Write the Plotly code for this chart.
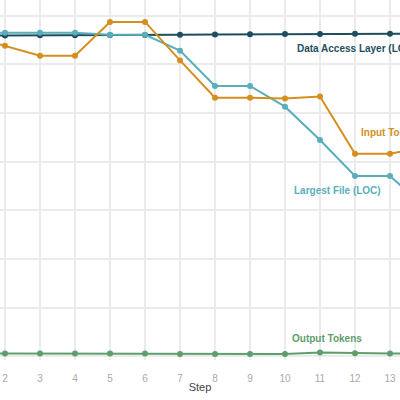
import plotly.graph_objects as go

steps = list(range(1, 15))
data_access_layer = [131.8, 131.8, 131.9, 131.9, 132.0, 132.0, 132.1, 132.2, 132.3, 132.4, 132.4, 132.5, 132.5, 132.6]
largest_file = [132.9, 132.9, 132.9, 132.9, 132.1, 132.1, 125.6, 111.1, 111.1, 102.6, 88.9, 74.1, 74.1, 61.4]
input_tokens = [131.6, 127.6, 123.5, 123.5, 137.4, 137.4, 121.6, 106.3, 106.3, 105.9, 106.8, 83.3, 83.3, 86.0]
output_tokens = [1.2, 1.2, 1.2, 1.2, 1.2, 1.2, 1.0, 1.0, 1.0, 1.0, 1.6, 1.3, 1.2, 1.2]

series = [
    ("Data Access Layer (LOC)", data_access_layer, "#1d4e5f"),
    ("Largest File (LOC)", largest_file, "#5aaebb"),
    ("Input Tokens", input_tokens, "#d48f1e"),
    ("Output Tokens", output_tokens, "#5e9e6c"),
]

labels = [
    ("Data Access Layer (LOC)", 10.28, 126.4, "#1d4e5f"),
    ("Input Tokens", 12.11, 91.9, "#d48f1e"),
    ("Largest File (LOC)", 10.20, 68.0, "#5aaebb"),
    ("Output Tokens", 10.13, 7.47, "#5e9e6c"),
]

fig = go.Figure()
for name, vals, col in series:
    fig.add_trace(go.Scatter(
        x=steps, y=vals, mode="lines+markers", name=name,
        line=dict(color=col, width=2), marker=dict(color=col, size=6),
        showlegend=False, cliponaxis=True,
    ))

for text, x, y, col in labels:
    fig.add_annotation(x=x, y=y, xref="x", yref="y", text="<b>" + text + "</b>",
                       showarrow=False, xanchor="left", yanchor="middle",
                       font=dict(family="Liberation Sans", size=10, color=col))

fig.update_layout(
    width=400, height=400,
    margin=dict(l=0, r=0, t=0, b=40),
    paper_bgcolor="white", plot_bgcolor="white",
    font=dict(family="Liberation Sans"),
    xaxis=dict(range=[1.857, 13.286], tickmode="array", tickvals=list(range(2, 14)),
               showgrid=True, gridcolor="#e9ecea", gridwidth=1.5, zeroline=False,
               showline=False, tickfont=dict(size=10, color="#aaaaaa"),
               ticklabelstandoff=11,
               title=dict(text="Step", font=dict(size=11, color="#444444"), standoff=0)),
    yaxis=dict(range=[-1.44, 146.4], tickmode="array", tickvals=[0, 20, 40, 60, 80, 100, 120, 140],
               showgrid=True, gridcolor="#e9ecea", gridwidth=1.5, zeroline=False,
               showline=False, showticklabels=False),
)

fig.write_html("out.html", config={"displayModeBar": False},
               post_script="document.body.style.margin='0';document.body.style.overflow='hidden';")
